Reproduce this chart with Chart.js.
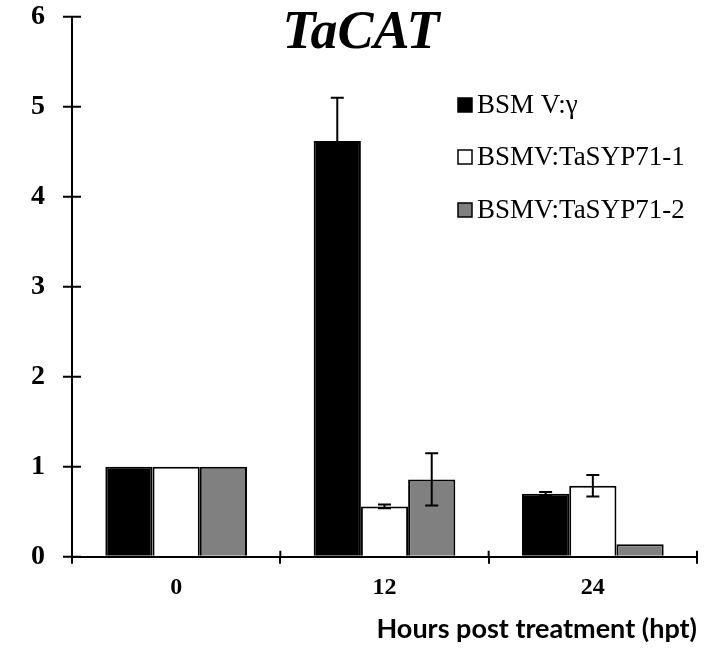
<!DOCTYPE html>
<html>
<head>
<meta charset="utf-8">
<script src="https://cdn.jsdelivr.net/npm/chart.js@4.4.1/dist/chart.umd.min.js"></script>
<style>
  html, body { margin: 0; padding: 0; background: #fff; }
  #wrap { width: 708px; height: 650px; position: relative; }
</style>
</head>
<body>
<div id="wrap"><canvas id="c" width="708" height="650"></canvas></div>
<script>
// data
const hours = ['0', '12', '24'];
const seriesNames = ['BSM V:\u03b3', 'BSMV:TaSYP71-1', 'BSMV:TaSYP71-2'];
const gammaVals = [1, 4.62, 0.70];
const gammaErr = [0, 0.48, 0.02];
const syp1Vals = [1, 0.56, 0.79];
const syp1Err = [0, 0.02, 0.12];
const syp2Vals = [1, 0.86, 0.14];
const syp2Err = [0, 0.29, 0];
const yTicks = [0, 1, 2, 3, 4, 5, 6];

const fills = ['#000000', '#ffffff', '#808080'];

// tick marks that cross the axes
const crossTicks = {
  id: 'crossTicks',
  afterDraw(chart) {
    const ctx = chart.ctx;
    const a = chart.chartArea;
    const y = chart.scales.y, x = chart.scales.x;
    ctx.save();
    ctx.strokeStyle = '#000';
    ctx.lineWidth = 2;
    ctx.beginPath();
    yTicks.forEach(t => {
      const py = y.getPixelForValue(t);
      ctx.moveTo(a.left - 9, py);
      ctx.lineTo(a.left + 9, py);
    });
    for (let i = 1; i <= hours.length; i++) {
      const px = x.left + (x.right - x.left) * i / hours.length;
      ctx.moveTo(px, a.bottom);
      ctx.lineTo(px, a.bottom - 6);
    }
    ctx.stroke();
    ctx.restore();
  }
};

// error bars
const errorBars = {
  id: 'errorBars',
  afterDatasetsDraw(chart) {
    const ctx = chart.ctx;
    const y = chart.scales.y;
    ctx.save();
    ctx.strokeStyle = '#000';
    ctx.lineWidth = 2;
    chart.data.datasets.forEach((ds, di) => {
      const meta = chart.getDatasetMeta(di);
      meta.data.forEach((bar, i) => {
        const e = ds.errors[i];
        if (!e) return;
        const v = ds.data[i];
        const top = y.getPixelForValue(v + e);
        const bot = y.getPixelForValue(v - e);
        ctx.beginPath();
        ctx.moveTo(bar.x, top); ctx.lineTo(bar.x, bot);
        ctx.moveTo(bar.x - 6.5, top); ctx.lineTo(bar.x + 6.5, top);
        ctx.moveTo(bar.x - 6.5, bot); ctx.lineTo(bar.x + 6.5, bot);
        ctx.stroke();
      });
    });
    ctx.restore();
  }
};

// title and legend drawn over the plot
const overlay = {
  id: 'overlay',
  afterDraw(chart) {
    const ctx = chart.ctx;
    ctx.save();
    ctx.fillStyle = '#000';
    ctx.font = 'italic bold 54px "Liberation Serif", "Times New Roman", serif';
    ctx.textAlign = 'center';
    ctx.textBaseline = 'alphabetic';
    ctx.fillText('TaCAT', 361, 48);

    ctx.font = '27px "Liberation Serif", "Times New Roman", serif';
    ctx.textAlign = 'left';
    ctx.textBaseline = 'middle';
    const rows = [105, 157, 210];
    chart.data.datasets.forEach((ds, i) => {
      ctx.fillStyle = ds.backgroundColor;
      ctx.fillRect(458, rows[i] - 7, 14, 14);
      ctx.strokeStyle = '#000';
      ctx.lineWidth = 1.5;
      ctx.strokeRect(458, rows[i] - 7, 14, 14);
      ctx.fillStyle = '#000';
      ctx.fillText(ds.label, 477, rows[i] + 1);
    });
    ctx.restore();
  }
};

const datasets = [
  { label: seriesNames[0], data: gammaVals, errors: gammaErr, backgroundColor: fills[0] },
  { label: seriesNames[1], data: syp1Vals, errors: syp1Err, backgroundColor: fills[1] },
  { label: seriesNames[2], data: syp2Vals, errors: syp2Err, backgroundColor: fills[2] }
].map(d => Object.assign(d, {
  borderColor: '#000',
  borderWidth: 2,
  categoryPercentage: 0.68,
  barPercentage: 1
}));

new Chart(document.getElementById('c'), {
  type: 'bar',
  data: { labels: hours, datasets },
  options: {
    responsive: false,
    animation: false,
    layout: { padding: { left: 31, right: 11, top: 0, bottom: 5 } },
    plugins: {
      legend: { display: false },
      tooltip: { enabled: false }
    },
    scales: {
      x: {
        grid: { display: true, drawOnChartArea: false, drawTicks: true, tickLength: 7, color: '#000', lineWidth: 2, offset: true },
        border: { display: true, color: '#000', width: 2 },
        ticks: {
          color: '#000',
          padding: 10,
          font: { family: '"Liberation Serif", "Times New Roman", serif', size: 24, weight: 'bold' }
        },
        title: {
          display: true,
          align: 'end',
          text: 'Hours post treatment (hpt)',
          color: '#000',
          padding: { top: 0, bottom: 0 },
          font: { family: 'Lato, "Open Sans", sans-serif', size: 27, weight: 'bold' }
        }
      },
      y: {
        min: 0,
        max: 6,
        afterBuildTicks: axis => { axis.ticks = yTicks.map(v => ({ value: v })); },
        grid: { display: true, drawOnChartArea: false, drawTicks: true, tickLength: 27, tickColor: 'rgba(0,0,0,0)', color: '#000', lineWidth: 2 },
        border: { display: true, color: '#000', width: 2 },
        ticks: {
          color: '#000',
          padding: 0,
          font: { family: '"Liberation Serif", "Times New Roman", serif', size: 28, weight: 'bold' }
        }
      }
    }
  },
  plugins: [crossTicks, errorBars, overlay]
});
</script>
</body>
</html>
